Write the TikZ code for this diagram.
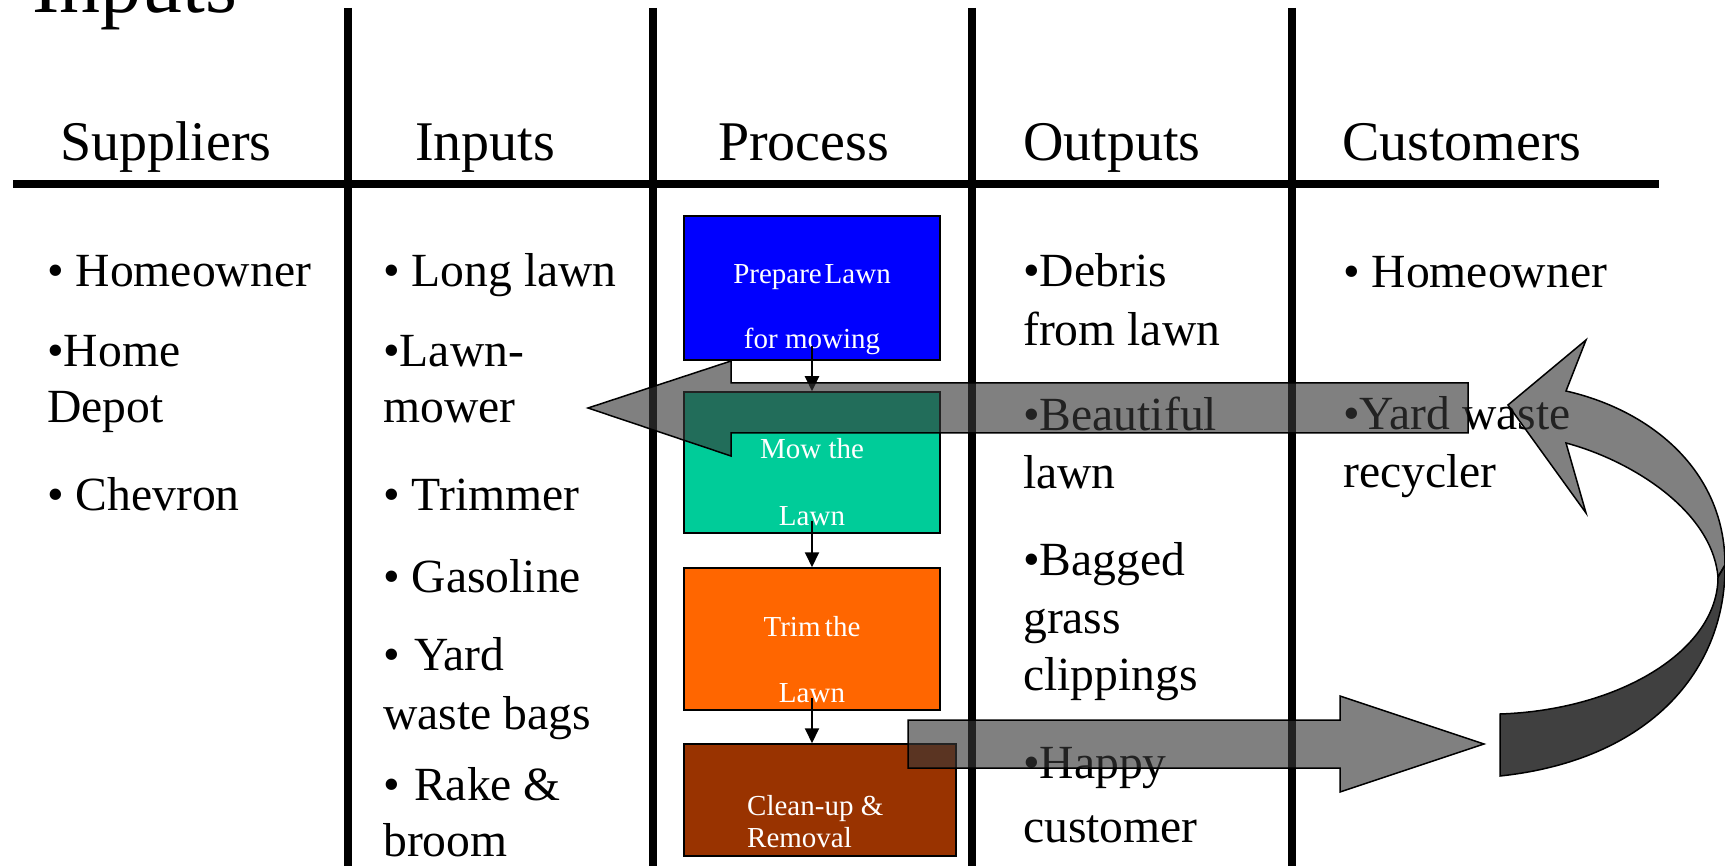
\documentclass[tikz,border=0pt]{standalone}
\usepackage{fontspec}
\setmainfont{Liberation Serif}
\usetikzlibrary{arrows.meta}
\definecolor{boxblue}{HTML}{0000FF}
\definecolor{boxteal}{HTML}{00CC99}
\definecolor{boxorange}{HTML}{FF6600}
\definecolor{boxbrown}{HTML}{993300}
\begin{document}
\begin{tikzpicture}[x=1pt,y=-1pt,
  rule/.style={line width=8pt},
  hdr/.style={anchor=base west,inner sep=0pt,font=\fontsize{56}{67}\selectfont},
  item/.style={anchor=base west,inner sep=0pt,font=\fontsize{47.6}{56}\selectfont},
  procbox/.style={draw=black,line width=1.5pt,minimum width=256pt,inner sep=0pt},
  boxtxt/.style={anchor=base,inner sep=0pt,text=white,font=\fontsize{29}{32}\selectfont},
  conn/.style={line width=2pt,-{Triangle[width=14pt,length=15pt]}},
  bigarrow/.style={draw=black,line width=1.5pt,fill=black!79,fill opacity=0.63,line join=miter},
]
\useasboundingbox (0,0) rectangle (1725,866);
% grid lines
\draw[rule] (13,184) -- (1659,184);
\foreach \x in {348,653,972,1292} \draw[rule] (\x,8) -- (\x,866);
% title
\node[anchor=base west,inner sep=0pt,font=\fontsize{82}{90}\selectfont] (title) at (32,13) {Inputs};
% headers
\node[hdr] (hs) at (60,161) {Suppliers};
\node[hdr] (hi) at (415,161) {Inputs};
\node[hdr] (hp) at (718,161) {Process};
\node[hdr] (ho) at (1023,161) {Outputs};
\node[hdr] (hc) at (1342,161) {Customers};
% suppliers
\node[item] (s1) at (47,287) {• Homeowner};
\node[item] (s2a) at (47,367) {•Home};
\node[item] (s2b) at (47,423) {Depot};
\node[item] (s3) at (47,511) {• Chevron};
% inputs
\node[item] (i1) at (383,287) {• Long lawn};
\node[item] (i2a) at (383,367) {•Lawn-};
\node[item] (i2b) at (383,423) {mower};
\node[item] (i3) at (383,511) {• Trimmer};
\node[item] (i4) at (383,592) {• Gasoline};
\node[item] (i5a) at (383,670) {•\hspace{0.3em}Yard};
\node[item] (i5b) at (383,729) {waste bags};
\node[item] (i6a) at (383,800) {•\hspace{0.3em}Rake \&};
\node[item] (i6b) at (383,856) {broom};
% outputs
\node[item] (o1a) at (1023,287) {•Debris};
\node[item] (o1b) at (1023,346) {from lawn};
\node[item] (o2a) at (1023,431) {•Beautiful};
\node[item] (o2b) at (1023,489) {lawn};
\node[item] (o3a) at (1023,575) {•Bagged};
\node[item] (o3b) at (1023,633) {grass};
\node[item] (o3c) at (1023,690) {clippings};
\node[item] (o4a) at (1023,778) {•Happy};
\node[item] (o4b) at (1023,842) {customer};
% customers
\node[item] (c1) at (1343,288) {• Homeowner};
\node[item] (c2a) at (1343,430) {•Yard waste};
\node[item] (c2b) at (1343,488) {recycler};
% process boxes
\node[procbox,fill=boxblue,minimum height=144pt] (b1) at (812,288) {};
\node[procbox,fill=boxteal,minimum height=141pt] (b2) at (812,462.5) {};
\node[procbox,fill=boxorange,minimum height=142pt] (b3) at (812,639) {};
\node[procbox,fill=boxbrown,minimum width=272pt,minimum height=112pt] (b4) at (820,800) {};
\node[boxtxt] (t1a) at (812,284) {Prepare\hspace{-0.15em} Lawn};
\node[boxtxt] (t1b) at (812,349) {for mowing};
\node[boxtxt] (t2a) at (812,459) {Mow the};
\node[boxtxt] (t2b) at (812,525) {Lawn};
\node[boxtxt] (t3a) at (812,636) {Trim\hspace{-0.1em} the};
\node[boxtxt] (t3b) at (812,702) {Lawn};
\node[boxtxt,anchor=base west] (t4a) at (747,815) {Clean-up \&};
\node[boxtxt,anchor=base west] (t4b) at (747,847) {Removal};
% connectors
\draw[conn] ([yshift=15pt]b1.south) -- (b2.north);
\draw[conn] ([yshift=13pt]b2.south) -- (b3.north);
\draw[conn] ([yshift=13pt]b3.south) -- (b3.south |- b4.north);
% block arrows
\draw[bigarrow] (588,408) -- (731,361) -- (731,383) -- (1468,383) -- (1468,433) -- (731,433) -- (731,456) -- cycle;
\draw[bigarrow] (908,720) -- (1340,720) -- (1340,696) -- (1484,744) -- (1340,792) -- (1340,768) -- (908,768) -- cycle;
\draw[bigarrow] (1566,391) .. controls (1650,410) and (1725,470) .. (1725,565) -- (1718,577) .. controls (1712,510) and (1630,460) .. (1566,443) -- (1586,513) -- (1508,405) -- (1586,340) -- cycle;
\draw[bigarrow,fill=black,fill opacity=0.75] (1725,565) .. controls (1726,670) and (1650,760) .. (1500,776) -- (1500,714) .. controls (1620,710) and (1718,650) .. (1718,577) -- cycle;
\end{tikzpicture}
\end{document}
